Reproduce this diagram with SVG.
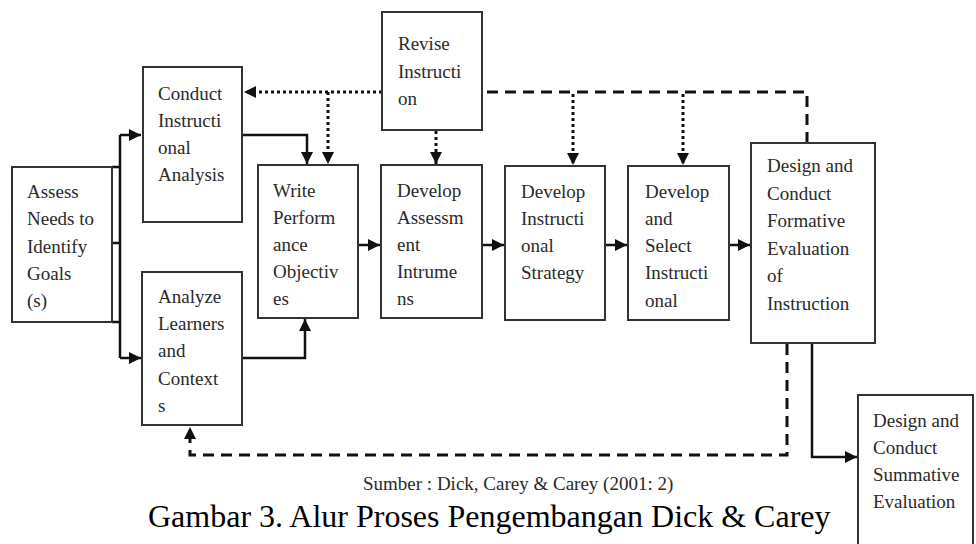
<svg xmlns="http://www.w3.org/2000/svg" width="976" height="544" viewBox="0 0 976 544">
<defs>
<style>
.box{fill:#fff;stroke:#333;stroke-width:2}
.t{font-family:"Liberation Serif","Times New Roman",serif;font-size:19px;fill:#2a2a2a}
.solid{fill:none;stroke:#111;stroke-width:2.5}
.dot{fill:none;stroke:#111;stroke-width:3;stroke-dasharray:3 3}
.dash{fill:none;stroke:#111;stroke-width:3;stroke-dasharray:11 7}
.cap{font-family:"Liberation Serif","Times New Roman",serif;fill:#000}
</style>
<marker id="ah" markerUnits="userSpaceOnUse" markerWidth="14" markerHeight="14" viewBox="0 0 14 14" refX="13" refY="7" orient="auto">
<path d="M1,1 L13,7 L1,13 Z" fill="#111"/>
</marker>
</defs>
<rect width="976" height="544" fill="#fff"/>
<g id="connectors">
<!-- from Assess -->
<path class="solid" d="M112,167 H120 M112,243 H120 M112,322 H120 M120,135 V358"/>
<path class="solid" d="M120,135 H141" marker-end="url(#ah)"/>
<path class="solid" d="M120,358 H141" marker-end="url(#ah)"/>
<!-- Conduct to Write -->
<path class="solid" d="M242,135 H307 V164" marker-end="url(#ah)"/>
<!-- Analyze to Write -->
<path class="solid" d="M242,358 H305 V319" marker-end="url(#ah)"/>
<!-- main flow -->
<path class="solid" d="M358,245 H380" marker-end="url(#ah)"/>
<path class="solid" d="M482,245 H504" marker-end="url(#ah)"/>
<path class="solid" d="M605,245 H627" marker-end="url(#ah)"/>
<path class="solid" d="M729,245 H750" marker-end="url(#ah)"/>
<!-- Revise dotted -->
<path class="dot" d="M382,92 H244" marker-end="url(#ah)"/>
<path class="dot" d="M328,92 V164" marker-end="url(#ah)"/>
<path class="dot" d="M436,131 V164" marker-end="url(#ah)"/>
<!-- dashed top -->
<path class="dash" d="M807,143 V92 H484"/>
<path class="dot" d="M573,94 V165" marker-end="url(#ah)"/>
<path class="dot" d="M683,94 V165" marker-end="url(#ah)"/>
<!-- formative bottom -->
<path class="dash" d="M787,344 V455 H190 V427" marker-end="url(#ah)"/>
<path class="solid" d="M812,343 V457 H857" marker-end="url(#ah)"/>
</g>
<g id="assess">
<rect class="box" x="12" y="167" width="100" height="155"/>
<text class="t" x="27" y="198">Assess</text>
<text class="t" x="27" y="225">Needs to</text>
<text class="t" x="27" y="253">Identify</text>
<text class="t" x="27" y="280">Goals</text>
<text class="t" x="27" y="307">(s)</text>
</g>
<g id="conduct">
<rect class="box" x="143" y="67" width="99" height="155"/>
<text class="t" x="158" y="100">Conduct</text>
<text class="t" x="158" y="127">Instructi</text>
<text class="t" x="158" y="154">onal</text>
<text class="t" x="158" y="181">Analysis</text>
</g>
<g id="analyze">
<rect class="box" x="142" y="272" width="100" height="153"/>
<text class="t" x="158" y="303">Analyze</text>
<text class="t" x="158" y="330">Learners</text>
<text class="t" x="158" y="357">and</text>
<text class="t" x="158" y="385">Context</text>
<text class="t" x="158" y="412">s</text>
</g>
<g id="revise">
<rect class="box" x="382" y="12" width="100" height="118"/>
<text class="t" x="398" y="50">Revise</text>
<text class="t" x="398" y="78">Instructi</text>
<text class="t" x="398" y="105">on</text>
</g>
<g id="write">
<rect class="box" x="258" y="165" width="100" height="153"/>
<text class="t" x="273" y="197">Write</text>
<text class="t" x="273" y="224">Perform</text>
<text class="t" x="273" y="251">ance</text>
<text class="t" x="273" y="278">Objectiv</text>
<text class="t" x="273" y="305">es</text>
</g>
<g id="assessment">
<rect class="box" x="381" y="165" width="101" height="153"/>
<text class="t" x="397" y="197">Develop</text>
<text class="t" x="397" y="224">Assessm</text>
<text class="t" x="397" y="251">ent</text>
<text class="t" x="397" y="278">Intrume</text>
<text class="t" x="397" y="305">ns</text>
</g>
<g id="strategy">
<rect class="box" x="505" y="166" width="100" height="154"/>
<text class="t" x="521" y="198">Develop</text>
<text class="t" x="521" y="225">Instructi</text>
<text class="t" x="521" y="252">onal</text>
<text class="t" x="521" y="279">Strategy</text>
</g>
<g id="select">
<rect class="box" x="628" y="166" width="101" height="154"/>
<text class="t" x="645" y="198">Develop</text>
<text class="t" x="645" y="225">and</text>
<text class="t" x="645" y="252">Select</text>
<text class="t" x="645" y="279">Instructi</text>
<text class="t" x="645" y="307">onal</text>
</g>
<g id="formative">
<rect class="box" x="751" y="143" width="124" height="200"/>
<text class="t" x="767" y="172">Design and</text>
<text class="t" x="767" y="200">Conduct</text>
<text class="t" x="767" y="227">Formative</text>
<text class="t" x="767" y="255">Evaluation</text>
<text class="t" x="767" y="282">of</text>
<text class="t" x="767" y="310">Instruction</text>
</g>
<g id="summative">
<rect class="box" x="858" y="395" width="115" height="160"/>
<text class="t" x="873" y="427">Design and</text>
<text class="t" x="873" y="454">Conduct</text>
<text class="t" x="873" y="481">Summative</text>
<text class="t" x="873" y="508">Evaluation</text>
</g>
<text class="t" x="363" y="490">Sumber : Dick, Carey &amp; Carey (2001: 2)</text>
<text class="cap" x="148" y="527" font-size="32">Gambar 3. Alur Proses Pengembangan Dick &amp; Carey</text>
</svg>
